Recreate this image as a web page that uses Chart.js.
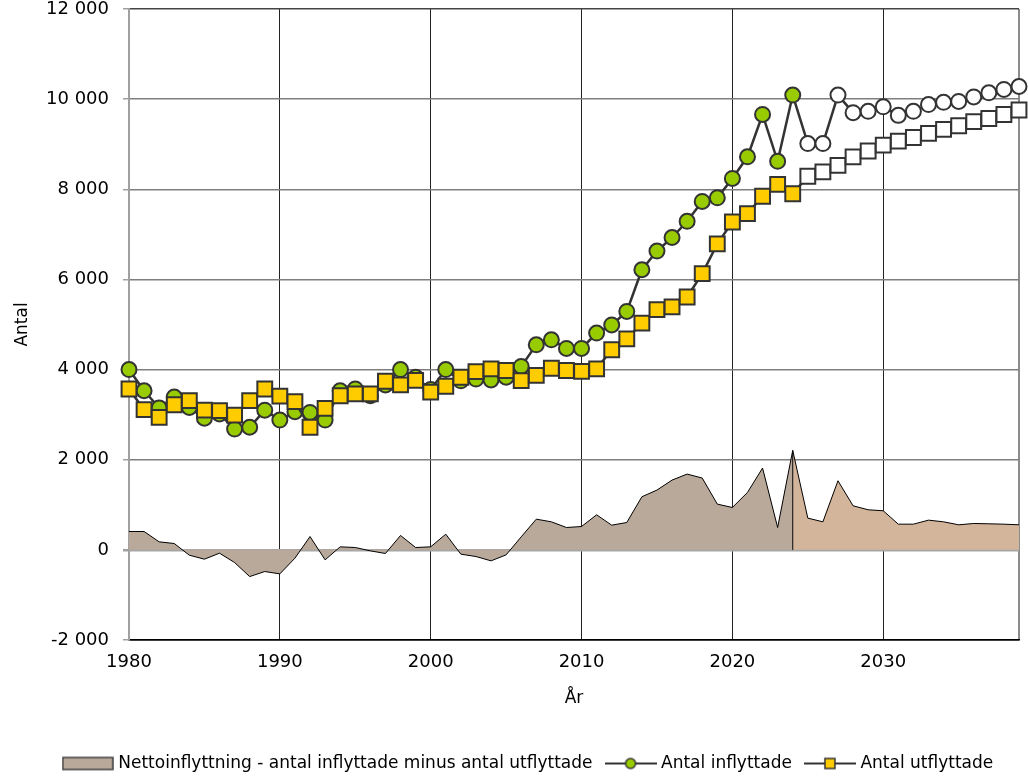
<!DOCTYPE html>
<html>
<head>
<meta charset="utf-8">
<script src="https://cdn.jsdelivr.net/npm/chart.js@4.4.1/dist/chart.umd.min.js"></script>
<style>
  html, body { margin: 0; padding: 0; background: #fff; }
</style>
</head>
<body>
<canvas id="myChart" width="1028" height="778"></canvas>
<script>
// years shown on the x axis, 1980 - 2039 (2025 onward is forecast)
const years = [];
for (let y = 1980; y <= 2039; y++) years.push(y);
const lastHistYear = 2024;

// Antal inflyttade
const inflyttade = [
  4000, 3530, 3150, 3390, 3160, 2920, 3015, 2680, 2720, 3100,
  2880, 3065, 3050, 2880, 3530, 3570, 3420, 3660, 4000, 3830,
  3560, 4000, 3750, 3790, 3770, 3830, 4070, 4550, 4660, 4470,
  4470, 4810, 4990, 5290, 6215, 6630, 6930, 7290, 7730, 7810,
  8240, 8720, 9660, 8620, 10090, 9015, 9015, 10090, 9700, 9730,
  9830, 9640, 9730, 9880, 9930, 9950, 10050, 10140, 10215, 10280
];

// Antal utflyttade
const utflyttade = [
  3570, 3110, 2940, 3220, 3310, 3100, 3090, 2990, 3310, 3570,
  3410, 3290, 2720, 3140, 3420, 3460, 3460, 3740, 3660, 3760,
  3500, 3630, 3830, 3955, 4015, 3980, 3755, 3870, 4030, 3980,
  3960, 4015, 4440, 4680, 5030, 5330, 5390, 5610, 6130, 6790,
  7275, 7460, 7845, 8110, 7900, 8290, 8385, 8530, 8720, 8850,
  8980, 9070, 9150, 9240, 9330, 9410, 9500, 9570, 9660, 9760
];

// Nettoinflyttning
const netto = [
  407, 407, 178, 141, -119, -207, -74, -281, -593, -481,
  -533, -185, 296, -222, 67, 52, -22, -81, 319, 52,
  67, 348, -96, -148, -244, -111, 289, 681, 622, 496,
  518, 778, 548, 607, 1178, 1326, 1548, 1681, 1593, 1015,
  940, 1274, 1815, 496, 2207, 704, 622, 1533, 978, 889,
  867, 570, 570, 659, 622, 556, 585, 578, 570, 556
];

const xTicks = [1980, 1990, 2000, 2010, 2020, 2030, 2039];
const yTicks = [-2000, 0, 2000, 4000, 6000, 8000, 10000, 12000];

const labelNet = "Nettoinflyttning - antal inflyttade minus antal utflyttade";
const labelIn = "Antal inflyttade";
const labelUt = "Antal utflyttade";

const green = "#99cc00";
const yellow = "#ffcc00";
const netHistColor = "#b9a99a";
const netProgColor = "#d3b59c";
const markLine = "#333333";

function pts(arr, from, to) {
  const out = [];
  years.forEach((yr, i) => {
    if (yr >= from && yr <= to) out.push({ x: yr, y: arr[i] });
  });
  return out;
}

const splitIdx = years.indexOf(lastHistYear);

// small pictures for the legend
function legendIcon(kind) {
  const c = document.createElement("canvas");
  c.width = 52;
  c.height = 16;
  const ctx = c.getContext("2d");
  if (kind === "area") {
    ctx.fillStyle = netHistColor;
    ctx.fillRect(1, 2, 50, 12);
    ctx.strokeStyle = "#404040";
    ctx.lineWidth = 1.5;
    ctx.strokeRect(1, 2, 50, 12);
    return c;
  }
  ctx.strokeStyle = markLine;
  ctx.lineWidth = 2;
  ctx.beginPath();
  ctx.moveTo(0, 8);
  ctx.lineTo(52, 8);
  ctx.stroke();
  ctx.lineWidth = 1.5;
  if (kind === "circle") {
    ctx.fillStyle = green;
    ctx.beginPath();
    ctx.arc(26, 8, 5, 0, Math.PI * 2);
    ctx.fill();
    ctx.stroke();
  } else {
    ctx.fillStyle = yellow;
    ctx.fillRect(21, 3, 10, 10);
    ctx.strokeRect(21, 3, 10, 10);
  }
  return c;
}

const fmt = (v) => String(v).replace(/\B(?=(\d{3})+(?!\d))/g, " ");

Chart.defaults.font.family = '"DejaVu Sans", Verdana, sans-serif';
Chart.defaults.color = "#000";

new Chart("myChart", {
  type: "line",
  data: {
    datasets: [
      {
        label: labelUt,
        data: pts(utflyttade, 1980, 2039),
        borderColor: markLine,
        borderWidth: 2.5,
        pointStyle: "rect",
        pointRadius: 10.5,
        pointBorderWidth: 2,
        pointBorderColor: markLine,
        pointBackgroundColor: years.map((y) => (y <= lastHistYear ? yellow : "#fff")),
        fill: false,
        clip: false,
        order: 0,
      },
      {
        label: labelIn,
        data: pts(inflyttade, 1980, 2039),
        borderColor: markLine,
        borderWidth: 2.5,
        pointStyle: "circle",
        pointRadius: 7.5,
        pointBorderWidth: 2,
        pointBorderColor: markLine,
        pointBackgroundColor: years.map((y) => (y <= lastHistYear ? green : "#fff")),
        fill: false,
        clip: false,
        order: 1,
      },
      {
        label: "split",
        data: [
          { x: lastHistYear, y: 0 },
          { x: lastHistYear, y: netto[splitIdx] },
        ],
        borderColor: "#000",
        borderWidth: 1,
        pointRadius: 0,
        fill: false,
        order: 2,
      },
      {
        label: labelNet,
        data: pts(netto, 1980, lastHistYear),
        borderColor: "#000",
        borderWidth: 1,
        backgroundColor: netHistColor,
        pointRadius: 0,
        fill: "origin",
        order: 3,
      },
      {
        label: "prognos",
        data: pts(netto, lastHistYear, 2039),
        borderColor: "#000",
        borderWidth: 1,
        backgroundColor: netProgColor,
        pointRadius: 0,
        fill: "origin",
        order: 4,
      },
    ],
  },
  options: {
    responsive: false,
    animation: false,
    layout: { autoPadding: false, padding: { top: 9, right: 9, left: 40, bottom: -4 } },
    plugins: {
      tooltip: { enabled: false },
      legend: {
        position: "bottom",
        labels: {
          usePointStyle: true,
          pointStyleWidth: 44,
          padding: 16,
          font: { size: 17 },
          color: "#000",
          generateLabels: () => [
            { text: labelNet, pointStyle: legendIcon("area"), lineWidth: 0, strokeStyle: "transparent", fillStyle: "transparent", hidden: false, datasetIndex: 3 },
            { text: labelIn, pointStyle: legendIcon("circle"), lineWidth: 0, strokeStyle: "transparent", fillStyle: "transparent", hidden: false, datasetIndex: 1 },
            { text: labelUt, pointStyle: legendIcon("square"), lineWidth: 0, strokeStyle: "transparent", fillStyle: "transparent", hidden: false, datasetIndex: 0 },
          ],
        },
        onClick: null,
      },
    },
    scales: {
      x: {
        type: "linear",
        min: 1980,
        max: 2039,
        afterBuildTicks: (scale) => {
          scale.ticks = xTicks.map((v) => ({ value: v }));
        },
        afterFit: (scale) => {
          scale.height = 99;
          scale.paddingLeft = 0;
          scale.paddingRight = 0;
        },
        ticks: {
          font: { size: 18 },
          padding: 12,
          maxRotation: 0,
          autoSkip: false,
          callback: (v) => (v % 10 === 0 ? String(v) : ""),
        },
        grid: {
          drawTicks: false,
          color: (ctx) => {
            const v = ctx.tick && ctx.tick.value;
            if (v === 1980) return "rgba(0,0,0,0)";
            if (v === 2039) return "#8c8c8c";
            return "#222";
          },
          lineWidth: (ctx) => (ctx.tick && ctx.tick.value === 2039 ? 2 : 1),
        },
        border: { color: "#000", width: 1.5 },
        title: { display: true, text: "År", font: { size: 17 }, padding: { top: 0, bottom: 30 } },
      },
      y: {
        min: -2000,
        max: 12000,
        afterBuildTicks: (scale) => {
          scale.ticks = yTicks.map((v) => ({ value: v }));
        },
        afterFit: (scale) => {
          scale.width = 89;
          scale.paddingTop = 0;
          scale.paddingBottom = 0;
        },
        ticks: {
          font: { size: 18 },
          padding: 14,
          callback: (v) => fmt(v),
        },
        grid: {
          tickLength: 6,
          tickColor: "#a0a0a0",
          color: (ctx) => {
            const v = ctx.tick && ctx.tick.value;
            if (v === 0) return "#a6a6a6";
            if (v === -2000) return "#000";
            if (v === 12000) return "#444";
            return "#7f7f7f";
          },
          lineWidth: (ctx) => (ctx.tick && ctx.tick.value === 0 ? 2.5 : 1.5),
        },
        border: { color: "#a0a0a0", width: 2 },
        title: { display: true, text: "Antal", font: { size: 17 }, padding: { top: -28, bottom: 0 } },
      },
    },
  },
});
</script>
</body>
</html>
